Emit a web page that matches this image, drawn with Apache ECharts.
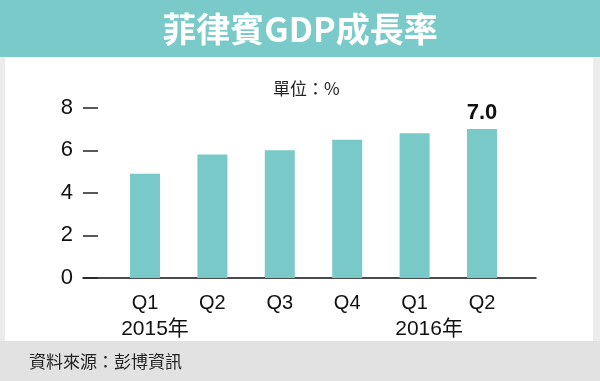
<!DOCTYPE html>
<html><head><meta charset="utf-8">
<script src="https://cdn.jsdelivr.net/npm/echarts@6/dist/echarts.min.js"></script>
<style>html,body{margin:0;padding:0;background:#ececec;}#c{width:600px;height:381px;}</style>
</head><body><div id="c"></div>
<script>
const categories = ['Q1','Q2','Q3','Q4','Q1','Q2'];
const yearLabels = ['2015年','','','','2016年',''];
const values = [4.9, 5.8, 6.0, 6.5, 6.8, 7.0];
const yTicks = [0, 2, 4, 6, 8];
const titleText = '菲律賓GDP成長率';
const unitText = '單位：%';
const sourceText = '資料來源：彭博資訊';

const chart = echarts.init(document.getElementById('c'), null, {renderer:'canvas'});
const teal = '#79c9c9';
const font = 'Arial, "Liberation Sans", "Noto Sans CJK TC", sans-serif';
chart.setOption({
  backgroundColor: '#ececec',
  animation: false,
  graphic: [
    {type:'rect', shape:{x:0,y:0,width:600,height:57}, style:{fill:'#7bcaca'}, z:-10},
    {type:'rect', shape:{x:5,y:57,width:588,height:284}, style:{fill:'#ffffff'}, z:-10},
    {type:'rect', shape:{x:0,y:341,width:600,height:40}, style:{fill:'#e2e2e2'}, z:-10},
    {type:'text', x:300, y:29, style:{text:titleText, fill:'#ffffff', font:'bold 34px "Noto Sans CJK TC", sans-serif', textAlign:'center', textVerticalAlign:'middle'}},
    {type:'text', x:273, y:89, style:{text:unitText, fill:'#222', font:'17px "Noto Sans CJK TC", sans-serif', textAlign:'left', textVerticalAlign:'middle'}},
    {type:'text', x:29, y:362, style:{text:sourceText, fill:'#222', font:'17px "Noto Sans CJK TC", sans-serif', textAlign:'left', textVerticalAlign:'middle'}}
  ],
  grid: [
    {left:83, right:64, top:107.7, bottom:103},
    {left:111.3, right:84.3, top:107.7, bottom:103}
  ],
  xAxis: [
    {gridIndex:0, type:'value', min:0, max:1, axisLine:{show:true, lineStyle:{color:'#111', width:1.5}}, axisTick:{show:false}, axisLabel:{show:false}, splitLine:{show:false}},
    {gridIndex:1, type:'category', data:categories, axisLine:{show:false}, axisTick:{show:false},
      axisLabel:{margin:12, interval:0,
        formatter:function(v, i){ const y = yearLabels[i]; return y ? '{q|'+v+'}\n{'+(i===0?'ya':'yb')+'|'+y+'}' : '{q|'+v+'}'; },
        rich:{
          q:{fontSize:20, fontFamily:font, color:'#111', lineHeight:26},
          ya:{fontSize:21, fontFamily:font, color:'#111', lineHeight:26, padding:[0,0,0,20]},
          yb:{fontSize:21, fontFamily:font, color:'#111', lineHeight:26, padding:[0,0,0,29]}
        }}}
  ],
  yAxis: [
    {gridIndex:0, type:'value', min:0, max:8, interval:2, axisLine:{show:false},
      axisTick:{show:true, inside:true, length:15, lineStyle:{color:'#222', width:1.5}},
      axisLabel:{margin:10, fontSize:22, fontFamily:font, color:'#111', formatter:function(v){return yTicks.indexOf(v)>=0? String(v):'';}},
      splitLine:{show:false}},
    {gridIndex:1, type:'value', min:0, max:8, interval:2, show:false, splitLine:{show:false}}
  ],
  series: [{
    type:'bar', xAxisIndex:1, yAxisIndex:1, barWidth:30,
    itemStyle:{color:teal},
    data: values.map(function(v,i){
      return i===values.length-1 ? {value:v, label:{show:true, position:'top', distance:5, formatter:function(p){return p.value.toFixed(1);}, fontSize:22, fontWeight:'bold', fontFamily:font, color:'#111'}} : v;
    })
  }]
});
</script></body></html>
